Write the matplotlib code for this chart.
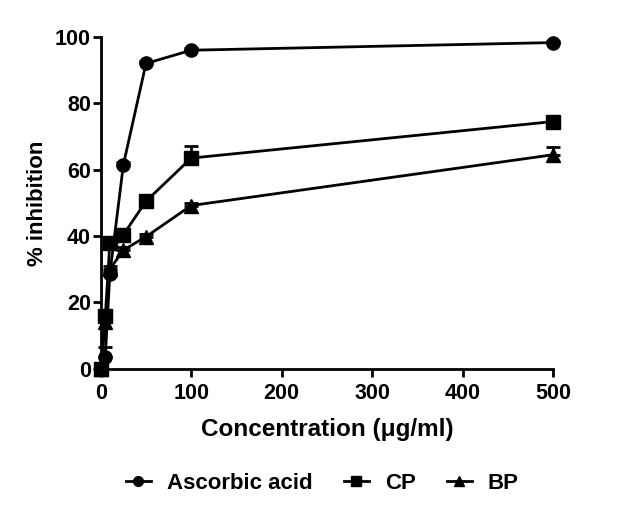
import matplotlib
matplotlib.use("Agg")
import matplotlib.pyplot as plt
from matplotlib.lines import Line2D

conc = [0, 5, 10, 25, 50, 100, 500]
ascorbic = [0, 3.6, 28.5, 61.5, 92.0, 96.0, 98.3]
ascorbic_err = [0, 3.0, 1.0, 0.8, 0.8, 0.6, 0.5]
cp = [0, 15.8, 37.8, 40.4, 50.5, 63.5, 74.5]
cp_err = [0, 1.0, 1.0, 1.0, 1.0, 3.5, 0.8]
bp = [0, 14.0, 30.0, 35.8, 39.8, 49.2, 64.5]
bp_err = [0, 1.0, 1.0, 0.8, 0.8, 0.8, 2.2]

plt.rcParams['font.family'] = ['Liberation Sans', 'DejaVu Sans']
plt.rcParams['font.weight'] = 'bold'

fig = plt.figure(figsize=(6.22, 5.13), dpi=100)
ax = fig.add_axes([0.162, 0.281, 0.727, 0.647])

series = [("Ascorbic acid", ascorbic, ascorbic_err, 'o', 9.5),
          ("CP", cp, cp_err, 's', 9.5),
          ("BP", bp, bp_err, '^', 10)]
for name, vals, err, m, ms in series:
    ax.errorbar(conc, vals, yerr=[[0]*len(err), err], color='black', marker=m,
                markersize=ms, linewidth=2, elinewidth=2, capsize=5, capthick=2,
                clip_on=False, zorder=3)

ax.set_xlim(0, 500)
ax.set_ylim(0, 100)
ax.set_xticks([0, 100, 200, 300, 400, 500])
ax.set_yticks([0, 20, 40, 60, 80, 100])
for s in ['top', 'right']:
    ax.spines[s].set_visible(False)
for s in ['left', 'bottom']:
    ax.spines[s].set_linewidth(2)
ax.tick_params(axis='both', width=2, length=6, labelsize=15.5)
ax.tick_params(axis='x', pad=4)
ax.tick_params(axis='y', pad=1)
for lab in ax.get_xticklabels() + ax.get_yticklabels():
    lab.set_fontweight('bold')
ax.set_xlabel("Concentration (μg/ml)", fontsize=17.5, fontweight='bold', labelpad=10)
ax.set_ylabel("% inhibition", fontsize=16, fontweight='bold', labelpad=5)

handles = [Line2D([0], [0], color='black', marker=m, markersize=7, linewidth=2)
           for _, _, _, m, ms in series]
fig.legend(handles, [s[0] for s in series], loc='center', bbox_to_anchor=(0.518, 0.058),
           ncol=3, frameon=False, prop={'size': 16, 'weight': 'bold'},
           handlelength=1.15, columnspacing=1.4, handletextpad=0.7)

fig.savefig("out.png", dpi=100)
